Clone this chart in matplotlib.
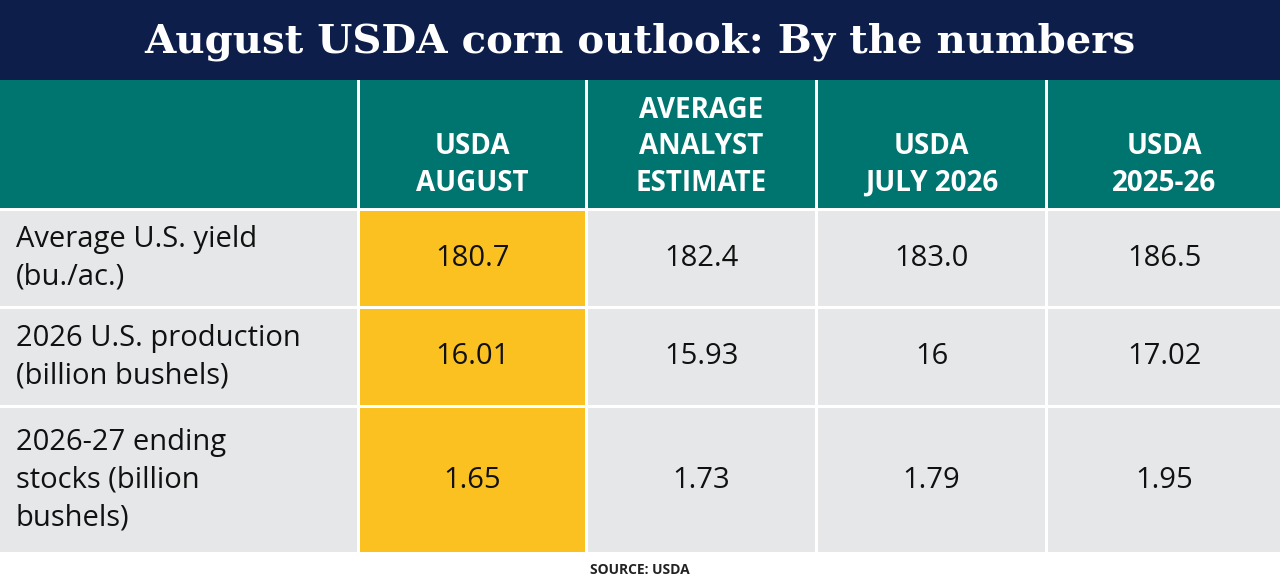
import matplotlib.pyplot as plt
import matplotlib.patches as mpatches

TITLE = "August USDA corn outlook: By the numbers"
COLUMNS = ["USDA\nAUGUST", "AVERAGE\nANALYST\nESTIMATE", "USDA\nJULY 2026", "USDA\n2025-26"]
ROW_LABELS = ["Average U.S. yield\n(bu./ac.)",
              "2026 U.S. production\n(billion bushels)",
              "2026-27 ending\nstocks (billion\nbushels)"]
USDA_AUGUST = ["180.7", "16.01", "1.65"]
ANALYST_EST = ["182.4", "15.93", "1.73"]
USDA_JULY = ["183.0", "16", "1.79"]
USDA_2526 = ["186.5", "17.02", "1.95"]
SOURCE = "SOURCE: USDA"

NAVY = "#0e1e4a"
TEAL = "#00756f"
YELLOW = "#fbc121"
GREY = "#e6e7e9"

col_x = [0, 357, 585, 815, 1045, 1280]
row_y = [80, 208, 306, 405, 552]
gap = 3

fig = plt.figure(figsize=(12.8, 5.85), dpi=100)
ax = fig.add_axes([0, 0, 1, 1])
ax.set_xlim(0, 1280)
ax.set_ylim(585, 0)
ax.axis("off")

ax.add_patch(mpatches.Rectangle((0, 0), 1280, 80, fc=NAVY, ec="none"))
ax.text(640, 42, TITLE, ha="center", va="center", color="white",
        fontsize=29, fontweight="bold", family="DejaVu Serif")

values = [USDA_AUGUST, ANALYST_EST, USDA_JULY, USDA_2526]

for c in range(5):
    x0, x1 = col_x[c], col_x[c + 1]
    xl = x0 + (gap if c > 0 else 0)
    ax.add_patch(mpatches.Rectangle((xl, row_y[0]), x1 - xl, row_y[1] - row_y[0],
                                    fc=TEAL, ec="none"))
    if c > 0:
        ax.text((xl + x1) / 2, row_y[1] - 10, COLUMNS[c - 1], ha="center", va="bottom",
                color="white", fontsize=20, fontweight="bold", family="Open Sans",
                linespacing=1.35)
    for r in range(3):
        y0 = row_y[r + 1] + gap
        y1 = row_y[r + 2]
        fc = YELLOW if c == 1 else GREY
        ax.add_patch(mpatches.Rectangle((xl, y0), x1 - xl, y1 - y0, fc=fc, ec="none"))
        if c == 0:
            ax.text(16, (y0 + y1) / 2, ROW_LABELS[r], ha="left", va="center",
                    fontsize=21, family="Open Sans", color="#111111", linespacing=1.4)
        else:
            ax.text((xl + x1) / 2, (y0 + y1) / 2, values[c - 1][r], ha="center",
                    va="center", fontsize=21, family="Open Sans", color="#111111")

ax.text(640, 570, SOURCE, ha="center", va="center", fontsize=10, fontweight="bold",
        family="Open Sans", color="#222222")

fig.savefig("out.png", dpi=100)
